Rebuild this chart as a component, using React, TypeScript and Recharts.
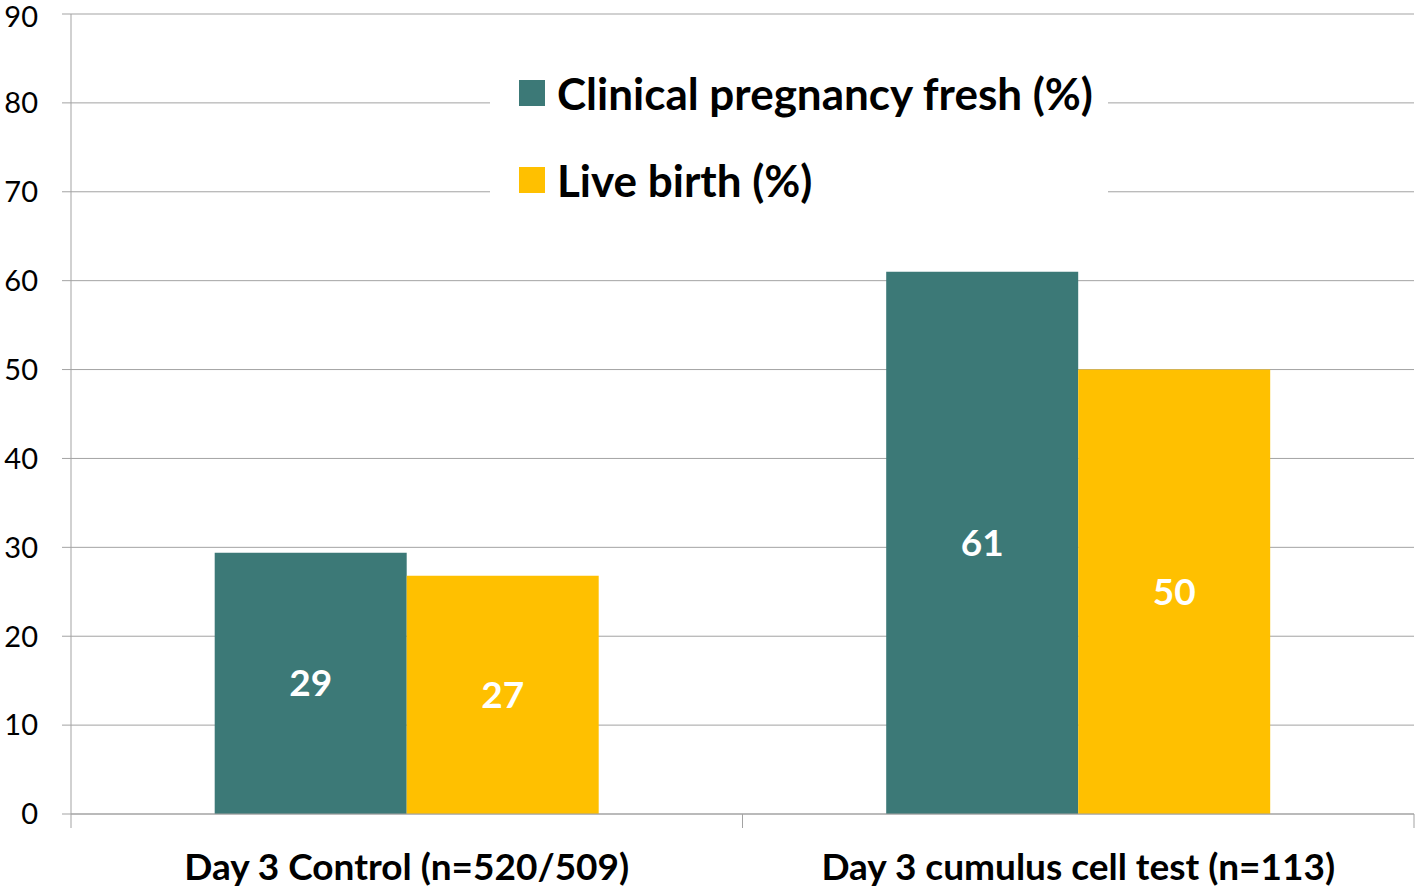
import { BarChart, Bar, XAxis, YAxis, CartesianGrid, Legend, LabelList } from "recharts";

const categories = ["Day 3 Control (n=520/509)", "Day 3 cumulus cell test (n=113)"];
const pregnancy = [29.4, 61];
const liveBirth = [26.8, 50];
const yTicks = [0, 10, 20, 30, 40, 50, 60, 70, 80, 90];

const series = [
  { key: "pregnancy", name: "Clinical pregnancy fresh (%)", color: "#3c7977" },
  { key: "liveBirth", name: "Live birth (%)", color: "#ffc000" },
];

const data = categories.map((c, i) => ({
  name: c,
  pregnancy: pregnancy[i],
  liveBirth: liveBirth[i],
}));

const GRID = "#a3a3a3";
const FONT = "Lato, 'Open Sans', sans-serif";

function CategoryTick(props: any) {
  const { x, y, payload, index, visibleTicksCount } = props;
  const half = payload.offset;
  return (
    <g>
      <line x1={x - half} x2={x - half} y1={y} y2={y + 14} stroke={GRID} />
      {index === visibleTicksCount - 1 && (
        <line x1={x + half} x2={x + half} y1={y} y2={y + 14} stroke={GRID} />
      )}
      <text
        x={x}
        y={y + 66}
        textAnchor="middle"
        fontFamily={FONT}
        fontWeight={700}
        fontSize={37}
        fill="#000"
      >
        {payload.value}
      </text>
    </g>
  );
}

function LegendBox() {
  return (
    <div style={legendInner}>
      {series.map((s) => (
        <div key={s.key} style={legendRow}>
          <span style={{ ...swatch, background: s.color }} />
          <span>{s.name}</span>
        </div>
      ))}
    </div>
  );
}

export default function App() {
  return (
    <div style={{ position: "absolute", left: 0, top: 0, background: "#fff" }}>
      <BarChart
        width={1418}
        height={891}
        data={data}
        margin={{ top: 14, right: 4, left: 0, bottom: 0 }}
        barCategoryGap="21.4%"
        barGap={0}
      >
        <CartesianGrid vertical={false} stroke={GRID} />
        <XAxis
          dataKey="name"
          height={77}
          stroke={GRID}
          tickLine={false}
          tickSize={0}
          tickMargin={0}
          tick={<CategoryTick />}
          interval={0}
        />
        <YAxis
          width={71}
          domain={[0, 90]}
          ticks={yTicks}
          stroke={GRID}
          tickSize={9}
          tickMargin={24}
          tick={{ fill: "#000", fontSize: 29, fontFamily: FONT }}
        />
        <Legend
          layout="horizontal"
          verticalAlign="middle"
          align="center"
          content={<LegendBox />}
          wrapperStyle={{
            left: 490,
            top: 60,
            width: 618,
            height: 158,
            background: "#fff",
          }}
        />
        {series.map((s) => (
          <Bar key={s.key} dataKey={s.key} name={s.name} fill={s.color} isAnimationActive={false}>
            <LabelList
              dataKey={s.key}
              position="center"
              formatter={(v: any) => Math.round(Number(v))}
              fill="#fff"
              fontSize={37}
              fontWeight={700}
              fontFamily={FONT}
            />
          </Bar>
        ))}
      </BarChart>
    </div>
  );
}

const legendInner: React.CSSProperties = {
  display: "flex",
  flexDirection: "column",
  gap: 61,
  paddingTop: 20,
  paddingLeft: 29,
  fontFamily: FONT,
  fontWeight: 700,
  fontSize: 44,
  color: "#000",
};

const legendRow: React.CSSProperties = {
  display: "flex",
  alignItems: "center",
  height: 26,
  gap: 12,
  whiteSpace: "nowrap",
};

const swatch: React.CSSProperties = {
  display: "inline-block",
  width: 26,
  height: 26,
};
